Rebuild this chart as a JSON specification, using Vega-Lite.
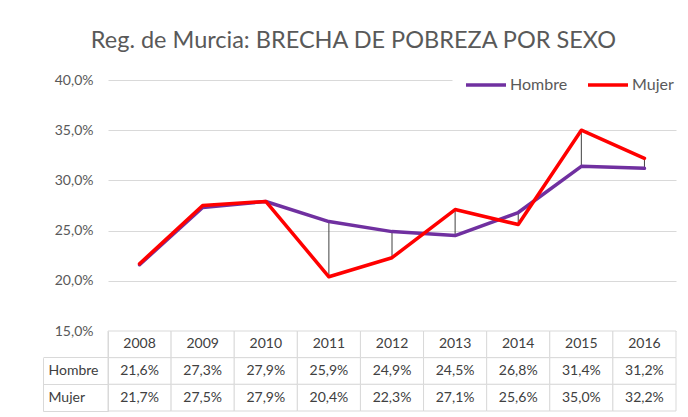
{
  "$schema": "https://vega.github.io/schema/vega-lite/v6.json",
  "padding": {"left": 42, "top": 28, "right": 12, "bottom": 6},
  "background": "white",
  "title": {
    "text": "Reg. de Murcia: BRECHA DE POBREZA POR SEXO",
    "font": "Lato",
    "fontSize": 23.5,
    "fontWeight": "normal",
    "color": "#595959",
    "anchor": "middle",
    "dx": -6,
    "offset": 21
  },
  "datasets": {
    "brecha": [
      {"year": "2008", "Hombre": 0.216, "Mujer": 0.217},
      {"year": "2009", "Hombre": 0.273, "Mujer": 0.275},
      {"year": "2010", "Hombre": 0.279, "Mujer": 0.279},
      {"year": "2011", "Hombre": 0.259, "Mujer": 0.204},
      {"year": "2012", "Hombre": 0.249, "Mujer": 0.223},
      {"year": "2013", "Hombre": 0.245, "Mujer": 0.271},
      {"year": "2014", "Hombre": 0.268, "Mujer": 0.256},
      {"year": "2015", "Hombre": 0.314, "Mujer": 0.350},
      {"year": "2016", "Hombre": 0.312, "Mujer": 0.322}
    ]
  },
  "spacing": 0,
  "bounds": "flush",
  "vconcat": [
    {
      "width": 568,
      "height": 251,
      "data": {"name": "brecha"},
      "view": {"stroke": null},
      "layer": [
        {
          "mark": {"type": "rule", "color": "#404040", "strokeWidth": 1},
          "encoding": {
            "x": {"field": "year", "type": "ordinal", "scale": {"type": "point", "padding": 0.5}, "axis": null},
            "y": {
              "field": "Hombre",
              "type": "quantitative",
              "title": null,
              "scale": {"domain": [0.15, 0.4], "nice": false, "zero": false},
              "axis": {
                "values": [0.15, 0.2, 0.25, 0.3, 0.35, 0.4],
                "format": ".1%",
                "domain": false,
                "ticks": false,
                "labelPadding": 15,
                "labelFont": "Lato",
                "labelFontSize": 14,
                "labelColor": "#595959",
                "gridColor": "#D9D9D9",
                "gridWidth": 1,
                "gridDash": {"condition": {"test": "datum.value > 0.399", "value": [344, 1000]}, "value": []}
              }
            },
            "y2": {"field": "Mujer"}
          }
        },
        {
          "transform": [{"fold": ["Hombre", "Mujer"], "as": ["serie", "valor"]}],
          "mark": {"type": "line", "strokeWidth": 3.5, "strokeCap": "round", "strokeJoin": "round"},
          "encoding": {
            "x": {"field": "year", "type": "ordinal"},
            "y": {"field": "valor", "type": "quantitative", "title": null},
            "color": {
              "field": "serie",
              "type": "nominal",
              "scale": {"domain": ["Hombre", "Mujer"], "range": ["#7030A0", "#FF0000"]},
              "legend": {
                "orient": "none",
                "legendX": 366,
                "legendY": -7,
                "direction": "horizontal",
                "title": null,
                "symbolType": "M-2,0H2",
                "symbolSize": 400,
                "symbolStrokeWidth": 3.5,
                "symbolFillColor": null,
                "labelFont": "Lato",
                "labelFontSize": 16,
                "labelColor": "#595959",
                "padding": 0,
                "columnPadding": 13,
                "labelOffset": 12
              }
            }
          }
        }
      ]
    },
    {
      "width": 568,
      "height": 80,
      "data": {"name": "brecha"},
      "view": {"stroke": null},
      "resolve": {"axis": {"y": "independent"}},
      "layer": [
        {
          "mark": {"type": "rect", "fill": "white", "stroke": "#D9D9D9", "strokeWidth": 1},
          "encoding": {
            "x": {"field": "year", "type": "ordinal", "scale": {"type": "band", "paddingInner": 0, "paddingOuter": 0}, "axis": null},
            "y": {
              "datum": "Año",
              "type": "nominal",
              "title": null,
              "scale": {"domain": ["Año", "Hombre", "Mujer"], "paddingInner": 0, "paddingOuter": 0},
              "axis": {
                "orient": "left",
                "offset": 0,
                "tickSize": 65,
                "bandPosition": 1,
                "tickColor": "#D9D9D9",
                "domainColor": "#D9D9D9",
                "labelAlign": "left",
                "labelPadding": -5,
                "labelExpr": "datum.label == 'Año' ? '' : datum.label",
                "labelFont": "Lato",
                "labelFontSize": 14,
                "labelColor": "#404040"
              }
            }
          }
        },
        {
          "transform": [{"fold": ["Hombre", "Mujer"], "as": ["serie", "valor"]}],
          "mark": {"type": "rect", "fill": "white", "stroke": "#D9D9D9", "strokeWidth": 1},
          "encoding": {
            "x": {"field": "year", "type": "ordinal"},
            "y": {
              "field": "serie",
              "type": "nominal",
              "title": null,
              "axis": {
                "orient": "left",
                "offset": 65,
                "labels": false,
                "ticks": false,
                "grid": false,
                "domain": true,
                "domainColor": "#D9D9D9",
                "domainDash": [0, 26.67, 200]
              }
            }
          }
        },
        {
          "mark": {"type": "text", "font": "Lato", "fontSize": 14, "color": "#404040"},
          "encoding": {
            "x": {"field": "year", "type": "ordinal"},
            "y": {"datum": "Año", "type": "nominal", "axis": null},
            "text": {"field": "year"}
          }
        },
        {
          "transform": [{"fold": ["Hombre", "Mujer"], "as": ["serie", "valor"]}],
          "mark": {"type": "text", "font": "Lato", "fontSize": 14, "color": "#404040"},
          "encoding": {
            "x": {"field": "year", "type": "ordinal"},
            "y": {"field": "serie", "type": "nominal", "axis": null},
            "text": {"field": "valor", "type": "quantitative", "format": ".1%"}
          }
        }
      ]
    }
  ],
  "config": {
    "locale": {
      "number": {"decimal": ",", "thousands": ".", "grouping": [3], "currency": ["", " €"]}
    },
    "font": "Lato"
  }
}
